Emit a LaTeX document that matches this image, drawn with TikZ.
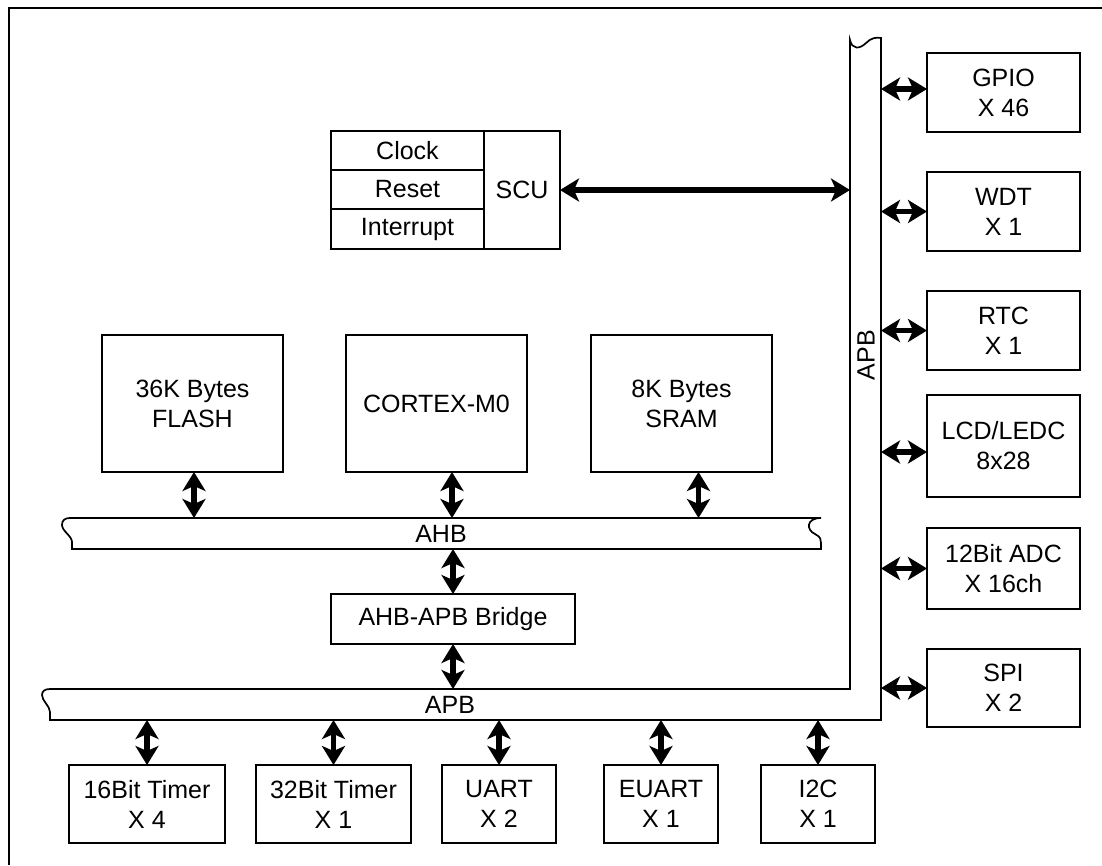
\documentclass[tikz,border=0pt]{standalone}
\usepackage{fontspec}
\setmainfont{Liberation Sans}
\usetikzlibrary{arrows.meta}
\begin{document}
\begin{tikzpicture}[x=1pt,y=-1pt,
  box/.style={draw, line width=1.7pt, anchor=north west, inner sep=0pt, outer sep=0pt,
    align=center, font=\fontsize{25}{30}\selectfont},
  bus/.style={draw, line width=1.7pt, fill=white},
  lbl/.style={font=\fontsize{25}{30}\selectfont, inner sep=0pt},
  tip/.tip={Stealth[length=19pt 0 0,width=23pt 0 0,inset=5pt 0 0]},
  dbl/.style={line width=5.5pt, tip-tip}]
\useasboundingbox (0,0) rectangle (1102,865);
% frame
\draw[line width=1.7pt] (9,865) -- (9,8) -- (1102,8);

% buses
\draw[bus] (70,518) -- (821,518)
  .. controls (806,518) and (806,530) .. (815,534)
  .. controls (821,537) and (821,540) .. (821,543) -- (821,549) -- (72,549) -- (72,542)
  .. controls (72,536) and (62,531) .. (62,525)
  .. controls (62,520) and (65,518) .. (70,518) -- cycle;
\node[lbl] (ahb) at (441,534) {AHB};

\draw[bus] (50,689) -- (850,689) -- (850,40)
  .. controls (852,50) and (860,49) .. (866,43)
  .. controls (871,38) and (876,37) .. (881,38)
  -- (881,720) -- (50,720) -- (50,712)
  .. controls (50,706) and (42,701) .. (42,695)
  .. controls (42,691) and (45,689) .. (50,689) -- cycle;
\node[lbl] (apbh) at (450,705) {APB};
\node[lbl, rotate=90] (apbv) at (866,355) {APB};
\coordinate (ahbN) at (0,518);
\coordinate (ahbS) at (0,549);
\coordinate (apbN) at (0,689);
\coordinate (apbS) at (0,720);
\coordinate (apbL) at (850,0);
\coordinate (apbR) at (881,0);

% SCU
\node[box, minimum width=153pt, minimum height=39pt] (clk) at (331,131) {Clock};
\node[box, minimum width=153pt, minimum height=39pt] (rst) at (331,170) {Reset};
\node[box, minimum width=153pt, minimum height=40pt] (irq) at (331,209) {Interrupt};
\node[box, minimum width=76pt, minimum height=118pt] (scu) at (484,131) {SCU};

% core blocks
\node[box, minimum width=181pt, minimum height=137pt] (flash) at (102,335) {36K Bytes\\FLASH};
\node[box, minimum width=181pt, minimum height=137pt] (cortex) at (346,335) {CORTEX-M0};
\node[box, minimum width=181pt, minimum height=137pt] (sram) at (591,335) {8K Bytes\\SRAM};
\node[box, minimum width=244pt, minimum height=50pt] (bridge) at (331,594) {AHB-APB Bridge};

% right peripherals
\node[box, minimum width=153pt, minimum height=79pt] (gpio) at (927,53) {GPIO\\X 46};
\node[box, minimum width=153pt, minimum height=79pt] (wdt) at (927,172) {WDT\\X 1};
\node[box, minimum width=153pt, minimum height=79pt] (rtc) at (927,291) {RTC\\X 1};
\node[box, minimum width=153pt, minimum height=102pt] (lcd) at (927,395) {LCD/LEDC\\8x28};
\node[box, minimum width=153pt, minimum height=81pt] (adc) at (927,528) {12Bit ADC\\X 16ch};
\node[box, minimum width=153pt, minimum height=78pt] (spi) at (927,649) {SPI\\X 2};

% bottom peripherals
\node[box, minimum width=156pt, minimum height=78pt] (t16) at (69,765) {16Bit Timer\\X 4};
\node[box, minimum width=155pt, minimum height=78pt] (t32) at (256,765) {32Bit Timer\\X 1};
\node[box, minimum width=114pt, minimum height=78pt] (uart) at (442,765) {UART\\X 2};
\node[box, minimum width=114pt, minimum height=78pt] (euart) at (604,765) {EUART\\X 1};
\node[box, minimum width=114pt, minimum height=78pt] (i2c) at (761,765) {I2C\\X 1};

% connectors
\draw[dbl] (scu.east) -- (scu.east -| apbL);
\draw[dbl] ([xshift=1.5pt]flash.south) -- ([xshift=1.5pt]flash.south |- ahbN);
\draw[dbl] ([xshift=15.5pt]cortex.south) -- ([xshift=15.5pt]cortex.south |- ahbN);
\draw[dbl] ([xshift=17pt]sram.south) -- ([xshift=17pt]sram.south |- ahbN);
\draw[dbl] (bridge.north) -- (bridge.north |- ahbS);
\draw[dbl] (bridge.south) -- (bridge.south |- apbN);
\draw[dbl] (t16.north) -- (t16.north |- apbS);
\draw[dbl] (t32.north) -- (t32.north |- apbS);
\draw[dbl] (uart.north) -- (uart.north |- apbS);
\draw[dbl] (euart.north) -- (euart.north |- apbS);
\draw[dbl] (i2c.north) -- (i2c.north |- apbS);
\draw[dbl] ([yshift=3.5pt]gpio.west) -- ([yshift=3.5pt]gpio.west -| apbR);
\draw[dbl] (wdt.west) -- (wdt.west -| apbR);
\draw[dbl] (rtc.west) -- (rtc.west -| apbR);
\draw[dbl] ([yshift=-6pt]lcd.west) -- ([yshift=-6pt]lcd.west -| apbR);
\draw[dbl] (adc.west) -- (adc.west -| apbR);
\draw[dbl] (spi.west) -- (spi.west -| apbR);
\end{tikzpicture}
\end{document}
